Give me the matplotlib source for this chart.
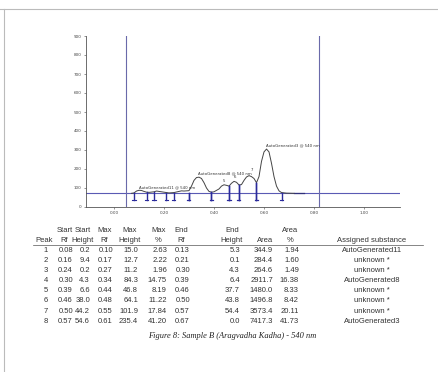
import numpy as np
import matplotlib
matplotlib.use("Agg")
import matplotlib.pyplot as plt
from matplotlib.lines import Line2D

# chromatogram trace (Rf, signal)
trace_rf = [0.07, 0.08, 0.09, 0.10, 0.11, 0.12, 0.13, 0.14, 0.16, 0.17, 0.18, 0.20,
            0.21, 0.22, 0.24, 0.26, 0.27, 0.28, 0.30, 0.31, 0.32, 0.33, 0.34, 0.35,
            0.36, 0.37, 0.38, 0.39, 0.40, 0.42, 0.43, 0.44, 0.45, 0.46, 0.47, 0.48,
            0.49, 0.50, 0.51, 0.52, 0.53, 0.54, 0.55, 0.56, 0.57, 0.58, 0.59, 0.60,
            0.61, 0.62, 0.63, 0.64, 0.65, 0.66, 0.67, 0.69, 0.72]
trace_au = [72, 74, 84, 88, 87, 82, 78, 77, 80, 84, 82, 78,
            76, 74, 76, 82, 85, 84, 86, 110, 140, 155, 157, 150,
            128, 100, 82, 78, 80, 95, 110, 117, 114, 110, 125, 135,
            130, 116, 118, 140, 158, 165, 160, 150, 128, 160, 240, 290,
            305, 290, 230, 160, 110, 85, 76, 73, 72]
baseline = 72
front_lines = [0.05, 0.82]

# peak table
peak = [1, 2, 3, 4, 5, 6, 7, 8]
start_rf = [0.08, 0.16, 0.24, 0.30, 0.39, 0.46, 0.50, 0.57]
start_h = [0.2, 9.4, 0.2, 4.3, 6.6, 38.0, 44.2, 54.6]
max_rf = [0.10, 0.17, 0.27, 0.34, 0.44, 0.48, 0.55, 0.61]
max_h = [15.0, 12.7, 11.2, 84.3, 46.8, 64.1, 101.9, 235.4]
max_pct = [2.63, 2.22, 1.96, 14.75, 8.19, 11.22, 17.84, 41.20]
end_rf = [0.13, 0.21, 0.30, 0.39, 0.46, 0.50, 0.57, 0.67]
end_h = [5.3, 0.1, 4.3, 6.4, 37.7, 43.8, 54.4, 0.0]
area = [344.9, 284.4, 264.6, 2911.7, 1480.0, 1496.8, 3573.4, 7417.3]
area_pct = [1.94, 1.60, 1.49, 16.38, 8.33, 8.42, 20.11, 41.73]
substance = ["AutoGenerated11", "unknown *", "unknown *", "AutoGenerated8",
             "unknown *", "unknown *", "unknown *", "AutoGenerated3"]

W, H = 439, 372
fig = plt.figure(figsize=(W / 100, H / 100), dpi=100)
fig.patch.set_facecolor("white")


def fx(px):
    return px / W


def fy(py):
    return 1 - py / H


# page frame
fig.add_artist(Line2D([0, 1], [fy(9), fy(9)], color="#bbbbbb", lw=0.8))
fig.add_artist(Line2D([fx(4), fx(4)], [fy(9), 0], color="#bbbbbb", lw=0.8))

# chromatogram
ax = fig.add_axes([fx(86), fy(207), fx(400) - fx(86), fy(36) - fy(207)])
ax.set_xlim(-0.112, 1.144)
ax.set_ylim(0, 900)
for s in ["top", "right"]:
    ax.spines[s].set_visible(False)
for s in ["left", "bottom"]:
    ax.spines[s].set_color("#555555")
    ax.spines[s].set_linewidth(0.6)
ax.set_yticks(range(0, 901, 100))
ax.set_xticks([0, 0.2, 0.4, 0.6, 0.8, 1.0])
ax.set_xticklabels(["0.00", "0.20", "0.40", "0.60", "0.80", "1.00"])
ax.tick_params(labelsize=3, length=1.5, width=0.4, pad=1.5, colors="#444444")

ax.axhline(baseline, color="#5a5ab4", lw=0.8)
for r in front_lines:
    ax.axvline(r, color="#6a6aaa", lw=0.8)
ax.plot([0.72, 0.76], [baseline, baseline], color="#30307a", lw=0.9)
ax.plot(trace_rf, trace_au, color="#444444", lw=0.7)

# integration marks at peak boundaries
blue = "#2b2b9c"
for i in range(len(peak)):
    for r, h in [(start_rf[i], start_h[i]), (end_rf[i], end_h[i])]:
        ax.plot([r, r], [baseline + h, baseline - 35], color=blue, lw=1.0)
        ax.plot([r - 0.006, r + 0.006], [baseline - 35, baseline - 35], color=blue, lw=0.8)

# labels
ax.text(0.10, 97, "AutoGenerated11 @ 540 nm", fontsize=2.8, color="#333333")
ax.text(0.336, 173, "AutoGenerated8 @ 540 nm", fontsize=2.8, color="#333333")
ax.text(0.61, 318, "AutoGenerated3 @ 540 nm", fontsize=2.8, color="#333333")
for r, y, t in [(0.44, 131, "5"), (0.484, 152, "6"), (0.55, 188, "7")]:
    ax.text(r, y, t, fontsize=2.8, color="#333333", ha="center")

# table: (header line 1, header line 2, header centre, values, value x, value align)
cols = [
    ("", "Peak", 44, [str(p) for p in peak], 46, "center"),
    ("Start", "Rf", 64.5, [f"{v:.2f}" for v in start_rf], 73, "right"),
    ("Start", "Height", 83, [f"{v:.1f}" for v in start_h], 90, "right"),
    ("Max", "Rf", 104.5, [f"{v:.2f}" for v in max_rf], 113, "right"),
    ("Max", "Height", 130, [f"{v:.1f}" for v in max_h], 138, "right"),
    ("Max", "%", 158.5, [f"{v:.2f}" for v in max_pct], 167, "right"),
    ("End", "Rf", 181.5, [f"{v:.2f}" for v in end_rf], 190, "right"),
    ("End", "Height", 232, [f"{v:.1f}" for v in end_h], 240, "right"),
    ("", "Area", 265, [f"{v:.1f}" for v in area], 273, "right"),
    ("Area", "%", 290.5, [f"{v:.2f}" for v in area_pct], 299, "right"),
    ("", "Assigned substance", 372, substance, 372, "center"),
]
tfont = dict(fontsize=5.5, family="Liberation Sans", color="#333333")
y_h1, y_h2, y_row0, dy = 231, 240, 250, 10.2
for h1, h2, hx, vals, vx, ha in cols:
    if h1:
        fig.text(fx(hx), fy(y_h1), h1, ha="center", va="center", **tfont)
    fig.text(fx(hx), fy(y_h2), h2, ha="center", va="center", **tfont)
    for k, v in enumerate(vals):
        fig.text(fx(vx), fy(y_row0 + k * dy), v, ha=ha, va="center", **tfont)
fig.add_artist(Line2D([fx(33), fx(423)], [fy(244.5), fy(244.5)], color="#555555", lw=0.5))

fig.text(fx(232), fy(336), "Figure 8: Sample B (Aragvadha Kadha) - 540 nm",
         ha="center", va="center", fontsize=6, family="Liberation Serif",
         style="italic", color="#222222")

fig.savefig("out.png", dpi=100)
